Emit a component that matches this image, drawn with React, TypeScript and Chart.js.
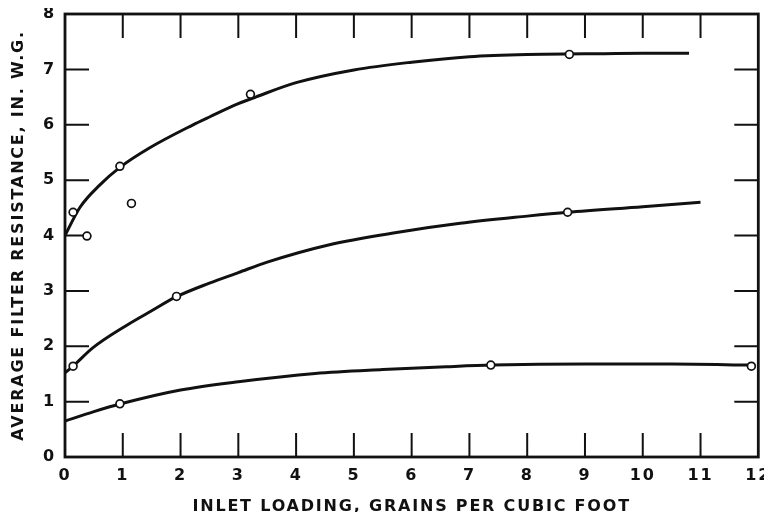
import React, { useEffect, useRef } from "react";
import { Chart, registerables } from "chart.js";

Chart.register(...registerables);

// Axis tick labels
const X_TICK_LABELS = ["0", "1", "2", "3", "4", "5", "6", "7", "8", "9", "10", "11", "12"];
const Y_TICK_LABELS = ["0", "1", "2", "3", "4", "5", "6", "7", "8"];
const INNER_X_TICKS = [1, 2, 3, 4, 5, 6, 7, 8, 9, 10, 11];
const INNER_Y_TICKS = [1, 2, 3, 4, 5, 6, 7];

const X_TITLE = "INLET LOADING, GRAINS PER CUBIC FOOT";
const Y_TITLE = "AVERAGE FILTER RESISTANCE, IN. W.G.";

// Upper curve
const upperCurveX = [0, 0.26, 0.6, 0.95, 1.46, 2.2, 2.5, 3, 3.3, 4, 5, 6, 7, 8, 9, 10, 10.8];
const upperCurveY = [4.0, 4.51, 4.91, 5.23, 5.58, 5.99, 6.14, 6.38, 6.5, 6.76, 6.99, 7.13, 7.23, 7.27, 7.28, 7.29, 7.29];
const upperPointsX = [0.14, 0.38, 0.95, 1.15, 3.21, 8.73];
const upperPointsY = [4.42, 3.99, 5.25, 4.58, 6.55, 7.27];

// Middle curve
const middleCurveX = [0, 0.14, 0.48, 1.07, 1.5, 1.92, 2.5, 3, 3.5, 4.56, 5.71, 6.84, 8, 8.7, 10, 11];
const middleCurveY = [1.52, 1.64, 1.97, 2.38, 2.64, 2.89, 3.14, 3.33, 3.52, 3.83, 4.05, 4.22, 4.35, 4.42, 4.52, 4.6];
const middlePointsX = [0.14, 1.93, 8.7];
const middlePointsY = [1.64, 2.9, 4.42];

// Lower curve
const lowerCurveX = [0, 0.5, 1, 2, 3, 4.33, 5.5, 6.6, 7.4, 9, 10.5, 11.9];
const lowerCurveY = [0.65, 0.82, 0.97, 1.21, 1.36, 1.51, 1.58, 1.63, 1.66, 1.68, 1.68, 1.66];
const lowerPointsX = [0.95, 7.37, 11.88];
const lowerPointsY = [0.96, 1.66, 1.64];

const INK = "#111111";
const FONT_FAMILY = "'DejaVu Sans', 'Liberation Sans', sans-serif";

const zip = (xs: number[], ys: number[]) => xs.map((x, i) => ({ x, y: ys[i] }));

const curveDataset = (xs: number[], ys: number[]) => ({
  data: zip(xs, ys),
  showLine: true,
  borderColor: INK,
  borderWidth: 3,
  pointRadius: 0,
  cubicInterpolationMode: "monotone" as const,
  order: 2,
});

const pointDataset = (xs: number[], ys: number[]) => ({
  data: zip(xs, ys),
  showLine: false,
  pointStyle: "circle" as const,
  pointRadius: 3.9,
  pointBorderWidth: 1.7,
  pointBorderColor: INK,
  pointBackgroundColor: "#ffffff",
  order: 1,
});

const framePlugin = {
  id: "frameAndInnerTicks",
  beforeDraw(chart: any) {
    chart.ctx.letterSpacing = "1.8px";
  },
  beforeDatasetsDraw(chart: any) {
    const { ctx, chartArea, scales } = chart;
    const { left, right, top, bottom } = chartArea;
    const len = 24;
    ctx.save();
    ctx.strokeStyle = INK;
    ctx.lineWidth = 2;
    ctx.beginPath();
    INNER_X_TICKS.forEach((v) => {
      const px = scales.x.getPixelForValue(v);
      ctx.moveTo(px, top);
      ctx.lineTo(px, top + len);
      ctx.moveTo(px, bottom);
      ctx.lineTo(px, bottom - len);
    });
    INNER_Y_TICKS.forEach((v) => {
      const py = scales.y.getPixelForValue(v);
      ctx.moveTo(left, py);
      ctx.lineTo(left + len, py);
      ctx.moveTo(right, py);
      ctx.lineTo(right - len, py);
    });
    ctx.stroke();
    ctx.lineWidth = 2.8;
    ctx.strokeRect(left, top, right - left, bottom - top);
    ctx.restore();
  },
};

export default function App() {
  const canvasRef = useRef<HTMLCanvasElement | null>(null);

  useEffect(() => {
    const canvas = canvasRef.current;
    if (!canvas) return;
    const chart = new Chart(canvas, {
      type: "scatter",
      data: {
        datasets: [
          curveDataset(upperCurveX, upperCurveY),
          curveDataset(middleCurveX, middleCurveY),
          curveDataset(lowerCurveX, lowerCurveY),
          pointDataset(upperPointsX, upperPointsY),
          pointDataset(middlePointsX, middlePointsY),
          pointDataset(lowerPointsX, lowerPointsY),
        ] as any,
      },
      options: {
        responsive: false,
        animation: false,
        layout: { padding: { top: 6, right: 1, left: 0, bottom: 0 } },
        plugins: {
          legend: { display: false },
          tooltip: { enabled: false },
        },
        scales: {
          x: {
            type: "linear",
            min: 0,
            max: 12,
            grid: { display: false, drawTicks: false },
            border: { display: false },
            ticks: {
              stepSize: 1,
              padding: 9,
              color: INK,
              font: { family: FONT_FAMILY, size: 16, weight: "bold" },
              callback: (v: any) => X_TICK_LABELS[Math.round(Number(v))] ?? "",
            },
            title: {
              display: true,
              text: X_TITLE,
              color: INK,
              font: { family: FONT_FAMILY, size: 16, weight: "bold" },
              padding: { top: 0, bottom: -4 },
            },
            afterFit: (scale: any) => {
              scale.height = 55;
              scale.paddingLeft = 0;
              scale.paddingRight = 0;
            },
          },
          y: {
            type: "linear",
            min: 0,
            max: 8,
            grid: { display: false, drawTicks: false },
            border: { display: false },
            ticks: {
              stepSize: 1,
              padding: 9,
              color: INK,
              font: { family: FONT_FAMILY, size: 16, weight: "bold" },
              callback: (v: any) => Y_TICK_LABELS[Math.round(Number(v))] ?? "",
            },
            title: {
              display: true,
              text: Y_TITLE,
              color: INK,
              font: { family: FONT_FAMILY, size: 16, weight: "bold" },
              padding: { top: 1, bottom: 0 },
            },
            afterFit: (scale: any) => {
              scale.width = 57;
              scale.paddingTop = 0;
              scale.paddingBottom = 0;
            },
          },
        },
      } as any,
      plugins: [framePlugin],
    });
    return () => chart.destroy();
  }, []);

  return (
    <div style={{ width: 756, height: 504 }}>
      <canvas ref={canvasRef} width={756} height={504} style={{ display: "block" }} />
    </div>
  );
}
